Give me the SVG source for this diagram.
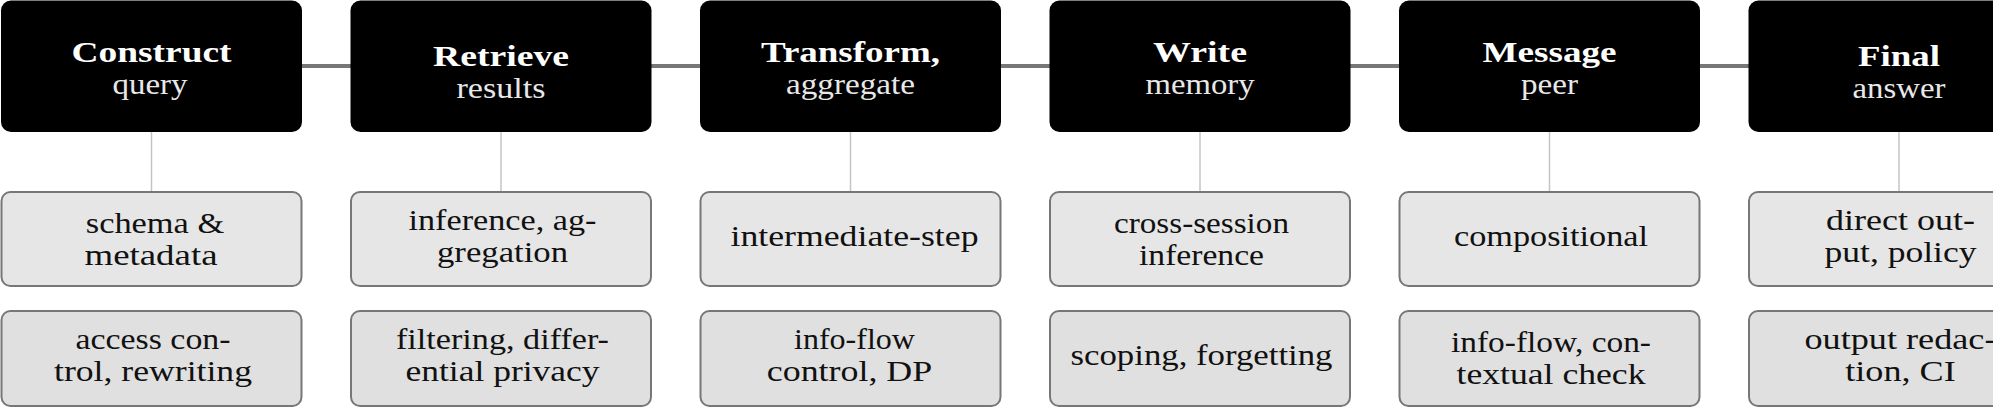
<svg xmlns="http://www.w3.org/2000/svg" width="1993" height="408" viewBox="0 0 1993 408">
<style>
.step{fill:#000;}
.t{font-family:"Liberation Serif","Times New Roman",serif;text-anchor:middle;}
.title{font-weight:bold;font-size:30px;fill:#fff;}
.sub{font-size:29px;fill:#e8e8e8;}
.r1{fill:#e6e6e6;stroke:#777;stroke-width:2;}
.r2{fill:#e0e0e0;stroke:#777;stroke-width:2;}
.lt{font-size:30px;fill:#111;}
.main{stroke:#777;stroke-width:4;fill:none;}
.drop{stroke:#c4c4c4;stroke-width:1.5;fill:none;}
</style>
<g id="connectors">
<line class="main" x1="300" y1="66" x2="352" y2="66"/>
<line class="main" x1="650" y1="66" x2="702" y2="66"/>
<line class="main" x1="999" y1="66" x2="1051" y2="66"/>
<line class="main" x1="1349" y1="66" x2="1401" y2="66"/>
<line class="main" x1="1698" y1="66" x2="1750" y2="66"/>
<line class="drop" x1="151.5" y1="132" x2="151.5" y2="192"/>
<line class="drop" x1="501" y1="132" x2="501" y2="192"/>
<line class="drop" x1="850.5" y1="132" x2="850.5" y2="192"/>
<line class="drop" x1="1200" y1="132" x2="1200" y2="192"/>
<line class="drop" x1="1549.5" y1="132" x2="1549.5" y2="192"/>
<line class="drop" x1="1899" y1="132" x2="1899" y2="192"/>
</g>

<g id="step1">
<rect class="step" x="1" y="0.5" width="301" height="131.5" rx="10"/>
<text class="t title" x="151.5" y="62" textLength="160" lengthAdjust="spacingAndGlyphs">Construct</text>
<text class="t sub" x="150" y="94" textLength="75" lengthAdjust="spacingAndGlyphs">query</text>
</g>
<g id="step2">
<rect class="step" x="350.5" y="0.5" width="301" height="131.5" rx="10"/>
<text class="t title" x="501" y="66" textLength="136" lengthAdjust="spacingAndGlyphs">Retrieve</text>
<text class="t sub" x="501" y="98" textLength="89" lengthAdjust="spacingAndGlyphs">results</text>
</g>
<g id="step3">
<rect class="step" x="700" y="0.5" width="301" height="131.5" rx="10"/>
<text class="t title" x="850.5" y="62" textLength="179" lengthAdjust="spacingAndGlyphs">Transform,</text>
<text class="t sub" x="850.5" y="94" textLength="129" lengthAdjust="spacingAndGlyphs">aggregate</text>
</g>
<g id="step4">
<rect class="step" x="1049.5" y="0.5" width="301" height="131.5" rx="10"/>
<text class="t title" x="1200" y="62" textLength="94" lengthAdjust="spacingAndGlyphs">Write</text>
<text class="t sub" x="1200" y="94" textLength="109" lengthAdjust="spacingAndGlyphs">memory</text>
</g>
<g id="step5">
<rect class="step" x="1399" y="0.5" width="301" height="131.5" rx="10"/>
<text class="t title" x="1549.5" y="62" textLength="134" lengthAdjust="spacingAndGlyphs">Message</text>
<text class="t sub" x="1549.5" y="94" textLength="57" lengthAdjust="spacingAndGlyphs">peer</text>
</g>
<g id="step6">
<rect class="step" x="1748.5" y="0.5" width="301" height="131.5" rx="10"/>
<text class="t title" x="1899" y="66" textLength="82" lengthAdjust="spacingAndGlyphs">Final</text>
<text class="t sub" x="1899" y="98" textLength="93" lengthAdjust="spacingAndGlyphs">answer</text>
</g>

<g id="risk1">
<rect class="r1" x="1.5" y="192" width="300" height="94" rx="9"/>
<text class="t lt" x="155" y="233" textLength="138.5" lengthAdjust="spacingAndGlyphs">schema &amp;</text>
<text class="t lt" x="151" y="265" textLength="133" lengthAdjust="spacingAndGlyphs">metadata</text>
</g>
<g id="risk2">
<rect class="r1" x="351" y="192" width="300" height="94" rx="9"/>
<text class="t lt" x="502.5" y="230" textLength="188" lengthAdjust="spacingAndGlyphs">inference, ag-</text>
<text class="t lt" x="502.5" y="262" textLength="131" lengthAdjust="spacingAndGlyphs">gregation</text>
</g>
<g id="risk3">
<rect class="r1" x="700.5" y="192" width="300" height="94" rx="9"/>
<text class="t lt" x="854.5" y="246" textLength="248" lengthAdjust="spacingAndGlyphs">intermediate-step</text>
</g>
<g id="risk4">
<rect class="r1" x="1050" y="192" width="300" height="94" rx="9"/>
<text class="t lt" x="1201.5" y="233" textLength="175" lengthAdjust="spacingAndGlyphs">cross-session</text>
<text class="t lt" x="1201.5" y="265" textLength="125" lengthAdjust="spacingAndGlyphs">inference</text>
</g>
<g id="risk5">
<rect class="r1" x="1399.5" y="192" width="300" height="94" rx="9"/>
<text class="t lt" x="1551" y="246" textLength="194" lengthAdjust="spacingAndGlyphs">compositional</text>
</g>
<g id="risk6">
<rect class="r1" x="1749" y="192" width="300" height="94" rx="9"/>
<text class="t lt" x="1900.5" y="230" textLength="149" lengthAdjust="spacingAndGlyphs">direct out-</text>
<text class="t lt" x="1900.5" y="262" textLength="152" lengthAdjust="spacingAndGlyphs">put, policy</text>
</g>

<g id="mitig1">
<rect class="r2" x="1.5" y="311" width="300" height="95" rx="9"/>
<text class="t lt" x="153" y="349" textLength="155" lengthAdjust="spacingAndGlyphs">access con-</text>
<text class="t lt" x="153" y="381" textLength="198" lengthAdjust="spacingAndGlyphs">trol, rewriting</text>
</g>
<g id="mitig2">
<rect class="r2" x="351" y="311" width="300" height="95" rx="9"/>
<text class="t lt" x="502.5" y="349" textLength="213" lengthAdjust="spacingAndGlyphs">filtering, differ-</text>
<text class="t lt" x="502.5" y="381" textLength="194" lengthAdjust="spacingAndGlyphs">ential privacy</text>
</g>
<g id="mitig3">
<rect class="r2" x="700.5" y="311" width="300" height="95" rx="9"/>
<text class="t lt" x="854.5" y="349" textLength="121" lengthAdjust="spacingAndGlyphs">info-flow</text>
<text class="t lt" x="849.5" y="381" textLength="165.5" lengthAdjust="spacingAndGlyphs">control, DP</text>
</g>
<g id="mitig4">
<rect class="r2" x="1050" y="311" width="300" height="95" rx="9"/>
<text class="t lt" x="1201.5" y="365" textLength="262" lengthAdjust="spacingAndGlyphs">scoping, forgetting</text>
</g>
<g id="mitig5">
<rect class="r2" x="1399.5" y="311" width="300" height="95" rx="9"/>
<text class="t lt" x="1551" y="352" textLength="200" lengthAdjust="spacingAndGlyphs">info-flow, con-</text>
<text class="t lt" x="1551" y="384" textLength="189" lengthAdjust="spacingAndGlyphs">textual check</text>
</g>
<g id="mitig6">
<rect class="r2" x="1749" y="311" width="300" height="95" rx="9"/>
<text class="t lt" x="1900.5" y="349" textLength="192" lengthAdjust="spacingAndGlyphs">output redac-</text>
<text class="t lt" x="1900.5" y="381" textLength="110.5" lengthAdjust="spacingAndGlyphs">tion, CI</text>
</g>
</svg>
